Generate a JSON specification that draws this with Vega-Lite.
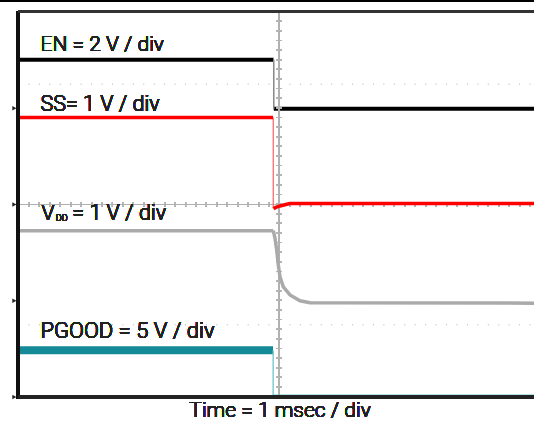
{
  "$schema": "https://vega.github.io/schema/vega-lite/v6.json",
  "width": 516,
  "height": 385,
  "autosize": {"type": "none"},
  "padding": {"left": 18, "top": 12, "right": 0, "bottom": 27},
  "background": "white",
  "config": {"view": {"stroke": null}, "text": {"font": "Roboto", "fontWeight": 300}},
  "datasets": {
    "traces": [
      {"ch": "EN", "part": "a", "t": 0, "v": 3.01},
      {"ch": "EN", "part": "a", "t": 4.895, "v": 3.01},
      {"ch": "EN", "part": "edge", "t": 4.9, "v": 3.01},
      {"ch": "EN", "part": "edge", "t": 4.9, "v": 1.99},
      {"ch": "EN", "part": "b", "t": 4.9, "v": 1.99},
      {"ch": "EN", "part": "b", "t": 9.885, "v": 1.99},
      {"ch": "SS", "part": "a", "t": 0, "v": 1.81},
      {"ch": "SS", "part": "a", "t": 4.885, "v": 1.81},
      {"ch": "SS", "part": "edge", "t": 4.89, "v": 1.81},
      {"ch": "SS", "part": "edge", "t": 4.89, "v": -0.08},
      {"ch": "SS", "part": "b", "t": 4.895, "v": -0.09},
      {"ch": "SS", "part": "b", "t": 4.94, "v": -0.06},
      {"ch": "SS", "part": "b", "t": 5.02, "v": -0.03},
      {"ch": "SS", "part": "b", "t": 5.13, "v": 0.0},
      {"ch": "SS", "part": "b", "t": 5.21, "v": 0.02},
      {"ch": "SS", "part": "b", "t": 9.885, "v": 0.02},
      {"ch": "VDD", "part": "a", "t": 0, "v": -0.545},
      {"ch": "VDD", "part": "a", "t": 4.89, "v": -0.545},
      {"ch": "VDD", "part": "b", "t": 4.89, "v": -0.545},
      {"ch": "VDD", "part": "b", "t": 4.923, "v": -0.7},
      {"ch": "VDD", "part": "b", "t": 4.956, "v": -0.945},
      {"ch": "VDD", "part": "b", "t": 4.987, "v": -1.26},
      {"ch": "VDD", "part": "b", "t": 5.019, "v": -1.5},
      {"ch": "VDD", "part": "b", "t": 5.082, "v": -1.71},
      {"ch": "VDD", "part": "b", "t": 5.211, "v": -1.88},
      {"ch": "VDD", "part": "b", "t": 5.402, "v": -2.0},
      {"ch": "VDD", "part": "b", "t": 5.594, "v": -2.04},
      {"ch": "VDD", "part": "b", "t": 9.885, "v": -2.05},
      {"ch": "PGOOD", "part": "a", "t": 0, "v": -3.03},
      {"ch": "PGOOD", "part": "a", "t": 4.885, "v": -3.03},
      {"ch": "PGOOD", "part": "b", "t": 4.888, "v": -3.03},
      {"ch": "PGOOD", "part": "b", "t": 4.888, "v": -3.96},
      {"ch": "PGOOD", "part": "b", "t": 9.885, "v": -3.96}
    ],
    "grounds": [
      {"ch": "EN", "ground": 2},
      {"ch": "SS", "ground": 0},
      {"ch": "VDD", "ground": -2},
      {"ch": "PGOOD", "ground": -4}
    ]
  },
  "data": {"name": "traces"},
  "layer": [
    {
      "transform": [{"filter": "datum.ch === 'EN' && datum.part !== 'edge'"}],
      "mark": {"type": "line", "color": "#000000", "strokeWidth": 4, "strokeCap": "butt"},
      "encoding": {
        "x": {"field": "t", "type": "quantitative",
              "scale": {"domain": [0, 9.885], "nice": false, "zero": false},
              "axis": {"grid": true, "values": [1, 2, 3, 4, 6, 7, 8, 9], "gridColor": "#c8c8c8", "gridDash": [2, 2], "gridWidth": 1, "labels": false, "ticks": false, "domain": false, "title": null}},
        "y": {"field": "v", "type": "quantitative",
              "scale": {"domain": [-4, 4], "nice": false, "zero": false},
              "axis": {"grid": true, "values": [-3, -2, -1, 1, 2, 3], "gridColor": "#c8c8c8", "gridDash": [2, 2], "gridWidth": 1, "labels": false, "ticks": false, "domain": false, "title": null}},
        "detail": {"field": "part"},
        "order": {"value": null}
      }
    },
    {
      "data": {"values": [{"level": 2.5}, {"level": -2.5}]},
      "mark": {"type": "rule", "color": "#b0b0b0", "strokeWidth": 1, "strokeDash": [1, 9.44]},
      "encoding": {"x": {"datum": 0}, "x2": {"datum": 9.885}, "y": {"field": "level", "type": "quantitative", "axis": null}}
    },
    {
      "mark": {"type": "rule", "color": "#b0b0b0", "strokeWidth": 1},
      "encoding": {"x": {"datum": 5}, "y": {"datum": -4}, "y2": {"datum": 4}}
    },
    {
      "mark": {"type": "rule", "color": "#b0b0b0", "strokeWidth": 1},
      "encoding": {"y": {"datum": 0}, "x": {"datum": 0}, "x2": {"datum": 9.885}}
    },
    {
      "mark": {"type": "rule", "color": "#b4b4b4", "strokeWidth": 5, "strokeDash": [1, 8.625]},
      "encoding": {"x": {"datum": 5}, "y": {"datum": -4}, "y2": {"datum": 4}}
    },
    {
      "mark": {"type": "rule", "color": "#b4b4b4", "strokeWidth": 5, "strokeDash": [1, 9.44]},
      "encoding": {"y": {"datum": 0}, "x": {"datum": 0}, "x2": {"datum": 9.885}}
    },
    {
      "transform": [{"filter": "datum.ch === 'PGOOD' && datum.part === 'a'"}],
      "mark": {"type": "line", "color": "#148a99", "strokeWidth": 8, "strokeCap": "butt"},
      "encoding": {"x": {"field": "t", "type": "quantitative", "axis": null}, "y": {"field": "v", "type": "quantitative", "axis": null}, "order": {"value": null}}
    },
    {
      "transform": [{"filter": "datum.ch === 'PGOOD' && datum.part === 'b'"}],
      "mark": {"type": "line", "color": "#6ec3ca", "strokeWidth": 1.3},
      "encoding": {"x": {"field": "t", "type": "quantitative", "axis": null}, "y": {"field": "v", "type": "quantitative", "axis": null}, "order": {"value": null}}
    },
    {
      "transform": [{"filter": "datum.ch === 'VDD'"}],
      "mark": {"type": "line", "color": "#aaaaaa", "strokeWidth": 3.5, "strokeCap": "butt"},
      "encoding": {"x": {"field": "t", "type": "quantitative", "axis": null}, "y": {"field": "v", "type": "quantitative", "axis": null}, "detail": {"field": "part"}, "order": {"value": null}}
    },
    {
      "transform": [{"filter": "datum.ch === 'SS' && datum.part === 'edge'"}],
      "mark": {"type": "line", "color": "#ff6a6a", "strokeWidth": 1.3},
      "encoding": {"x": {"field": "t", "type": "quantitative", "axis": null}, "y": {"field": "v", "type": "quantitative", "axis": null}, "order": {"value": null}}
    },
    {
      "transform": [{"filter": "datum.ch === 'SS' && datum.part !== 'edge'"}],
      "mark": {"type": "line", "color": "#ff0000", "strokeWidth": 3.5, "strokeCap": "butt"},
      "encoding": {"x": {"field": "t", "type": "quantitative", "axis": null}, "y": {"field": "v", "type": "quantitative", "axis": null}, "detail": {"field": "part"}, "order": {"value": null}}
    },
    {
      "transform": [{"filter": "datum.ch === 'EN' && datum.part === 'edge'"}],
      "mark": {"type": "line", "color": "#888888", "strokeWidth": 1.5},
      "encoding": {"x": {"field": "t", "type": "quantitative", "axis": null}, "y": {"field": "v", "type": "quantitative", "axis": null}, "order": {"value": null}}
    },
    {
      "mark": {"type": "rule", "color": "#111111", "strokeWidth": 3},
      "encoding": {"x": {"datum": 0}, "y": {"datum": -4.03}, "y2": {"datum": 4.02}}
    },
    {
      "mark": {"type": "rule", "color": "#222222", "strokeWidth": 3},
      "encoding": {"y": {"datum": -4}, "x": {"datum": 0}, "x2": {"datum": 9.885}}
    },
    {
      "mark": {"type": "rule", "color": "#333333", "strokeWidth": 2.5},
      "encoding": {"y": {"datum": 4.01}, "x": {"datum": 0}, "x2": {"datum": 9.885}}
    },
    {
      "mark": {"type": "rule", "color": "#000000", "strokeWidth": 1.5},
      "encoding": {"y": {"datum": 4.235}, "x": {"datum": -0.345}, "x2": {"datum": 9.885}}
    },
    {
      "data": {"name": "grounds"},
      "mark": {"type": "point", "shape": "triangle-right", "filled": true, "color": "#222222", "size": 22, "opacity": 1},
      "encoding": {"x": {"datum": -0.07}, "y": {"field": "ground", "type": "quantitative", "axis": null}}
    },
    {
      "mark": {"type": "text", "fontSize": 21, "color": "#222222", "align": "left", "baseline": "alphabetic"},
      "encoding": {"x": {"datum": 0.43}, "y": {"datum": 3.19}, "text": {"value": "EN = 2 V / div"}}
    },
    {
      "mark": {"type": "text", "fontSize": 21.5, "color": "#222222", "align": "left", "baseline": "alphabetic"},
      "encoding": {"x": {"datum": 0.43}, "y": {"datum": 1.94}, "text": {"value": "SS= 1 V / div"}}
    },
    {
      "mark": {"type": "text", "fontSize": 21, "color": "#222222", "align": "left", "baseline": "alphabetic"},
      "encoding": {"x": {"datum": 0.45}, "y": {"datum": -0.32}, "text": {"value": "V"}}
    },
    {
      "mark": {"type": "text", "fontSize": 9, "color": "#222222", "align": "left", "baseline": "alphabetic"},
      "encoding": {"x": {"datum": 0.725}, "y": {"datum": -0.345}, "text": {"value": "DD"}}
    },
    {
      "mark": {"type": "text", "fontSize": 21.5, "color": "#222222", "align": "left", "baseline": "alphabetic"},
      "encoding": {"x": {"datum": 1.04}, "y": {"datum": -0.32}, "text": {"value": "= 1 V / div"}}
    },
    {
      "mark": {"type": "text", "fontSize": 22, "color": "#222222", "align": "left", "baseline": "alphabetic"},
      "encoding": {"x": {"datum": 0.43}, "y": {"datum": -2.77}, "text": {"value": "PGOOD = 5 V / div"}}
    },
    {
      "mark": {"type": "text", "fontSize": 21, "color": "#222222", "align": "center", "baseline": "alphabetic"},
      "encoding": {"x": {"datum": 5.02}, "y": {"datum": -4.42}, "text": {"value": "Time = 1 msec / div"}}
    }
  ]
}
